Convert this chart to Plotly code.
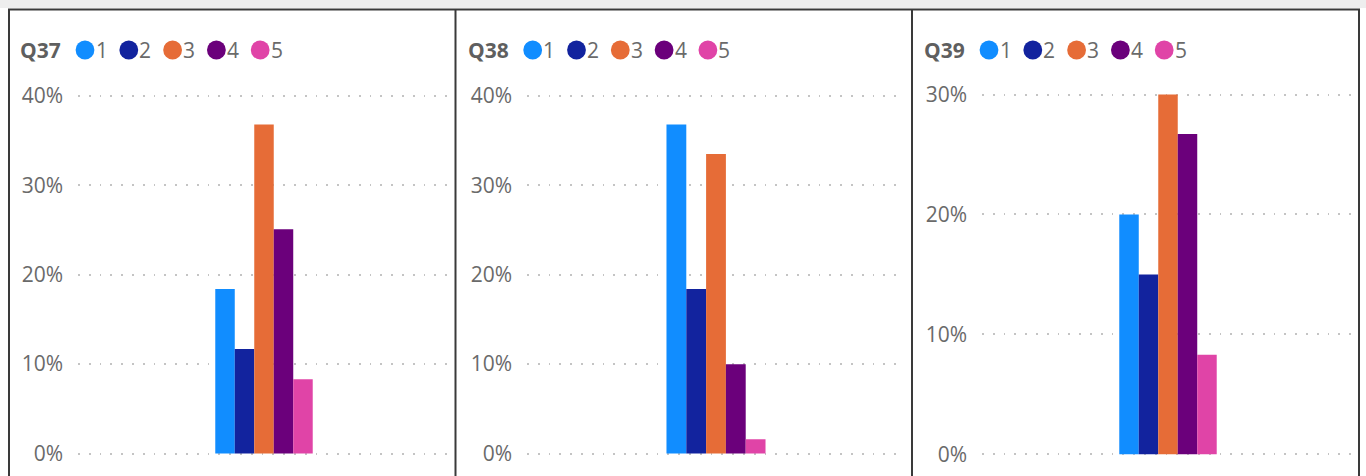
import plotly.graph_objects as go

W, H = 1366, 476

# Survey answers (share of respondents per answer value)
questions = ["Q37", "Q38", "Q39"]
answers = ["1", "2", "3", "4", "5"]
q37 = [0.184, 0.117, 0.368, 0.251, 0.083]
q38 = [0.368, 0.184, 0.335, 0.100, 0.016]
q39 = [0.200, 0.150, 0.300, 0.267, 0.083]
axis_max = [0.40, 0.40, 0.30]
tick_step = 0.10

colors = ["#118DFF", "#12239E", "#E66C37", "#6B007B", "#E044A7"]
FONT = "Segoe UI, Open Sans, sans-serif"
LABEL_GREY = "#6a6a6a"
GRID_GREY = "#c4c4c4"
FRAME = "#3a3a3a"
TEXT_SIZE = 21


def fx(x):
    return x / W


def fy(y):
    return 1 - y / H


# pixel layout of each card: plot box and legend anchors
panels = [
    dict(left=78, right=450, top=96, bottom=453.5, title_x=20, dot_x=85),
    dict(left=527, right=905, top=96, bottom=453.5, title_x=468, dot_x=532.7),
    dict(left=982, right=1354, top=94.5, bottom=454.3, title_x=924, dot_x=989),
]
EDGE_PAD = 4  # px of breathing room so the 0% and top gridlines are kept
DOT_STEP = 43.8
DOT_R = 9.4
LEGEND_Y = 50

series = [q37, q38, q39]
fig = go.Figure()
shapes = []
annotations = []

for i, (q, vals, p, ymax) in enumerate(zip(questions, series, panels, axis_max)):
    n = "" if i == 0 else str(i + 1)
    for a, v, c in zip(answers, vals, colors):
        fig.add_trace(go.Bar(
            x=[q], y=[v], name=a, marker=dict(color=c, line=dict(width=0)),
            xaxis="x" + n, yaxis="y" + n, offsetgroup=a, showlegend=False,
            hovertemplate=q + " · " + a + ": %{y:.1%}<extra></extra>",
        ))
    eps = EDGE_PAD * ymax / (p["bottom"] - p["top"])
    fig.update_layout({
        "xaxis" + n: dict(
            domain=[fx(p["left"]), fx(p["right"])], anchor="y" + n,
            showticklabels=False, showgrid=False, zeroline=False,
            showline=False, ticks="", fixedrange=True, automargin=False,
        ),
        "yaxis" + n: dict(
            domain=[fy(p["bottom"] + EDGE_PAD), fy(p["top"] - EDGE_PAD)],
            anchor="x" + n, automargin=False,
            range=[-eps, ymax + eps], dtick=tick_step, tick0=0, tickformat=".0%",
            showgrid=True, gridcolor=GRID_GREY, gridwidth=1.8,
            griddash="1.8px,9px", zeroline=False, showline=False,
            ticks="", ticklabelstandoff=14,
            tickfont=dict(family=FONT, size=TEXT_SIZE, color=LABEL_GREY),
            fixedrange=True,
        ),
    })

    # legend: bold question title followed by coloured dots with answer values
    annotations.append(dict(
        text="<b>" + q + "</b>", xref="paper", yref="paper",
        x=fx(p["title_x"] - 2), y=fy(LEGEND_Y), xanchor="left", yanchor="middle",
        showarrow=False, font=dict(family=FONT, size=TEXT_SIZE, color="#5f5f5f"),
    ))
    for k, (a, c) in enumerate(zip(answers, colors)):
        cx = p["dot_x"] + k * DOT_STEP
        shapes.append(dict(
            type="circle", xref="paper", yref="paper",
            x0=fx(cx - DOT_R), x1=fx(cx + DOT_R),
            y0=fy(LEGEND_Y + DOT_R), y1=fy(LEGEND_Y - DOT_R),
            fillcolor=c, line=dict(width=0),
        ))
        annotations.append(dict(
            text=a, xref="paper", yref="paper",
            x=fx(cx + 8.5), y=fy(LEGEND_Y), xanchor="left", yanchor="middle",
            showarrow=False, font=dict(family=FONT, size=TEXT_SIZE, color=LABEL_GREY),
        ))

# light strip above the cards and the card frames
shapes.append(dict(type="rect", xref="paper", yref="paper", x0=0, x1=1,
                   y0=fy(8), y1=1, fillcolor="#eeeeee", line=dict(width=0),
                   layer="below"))
for x in (9, 455.5, 912, 1359):
    shapes.append(dict(type="line", xref="paper", yref="paper",
                       x0=fx(x), x1=fx(x), y0=0, y1=fy(9),
                       line=dict(color=FRAME, width=2)))
shapes.append(dict(type="line", xref="paper", yref="paper",
                   x0=fx(8), x1=fx(1360), y0=fy(9.5), y1=fy(9.5),
                   line=dict(color=FRAME, width=2)))

fig.update_layout(
    width=W, height=H, margin=dict(l=0, r=0, t=0, b=0, pad=0),
    paper_bgcolor="white", plot_bgcolor="white",
    barmode="group", bargap=0.738, bargroupgap=0,
    shapes=shapes, annotations=annotations, showlegend=False,
    font=dict(family=FONT),
)

fig.write_html("out.html", config={"displayModeBar": False})
